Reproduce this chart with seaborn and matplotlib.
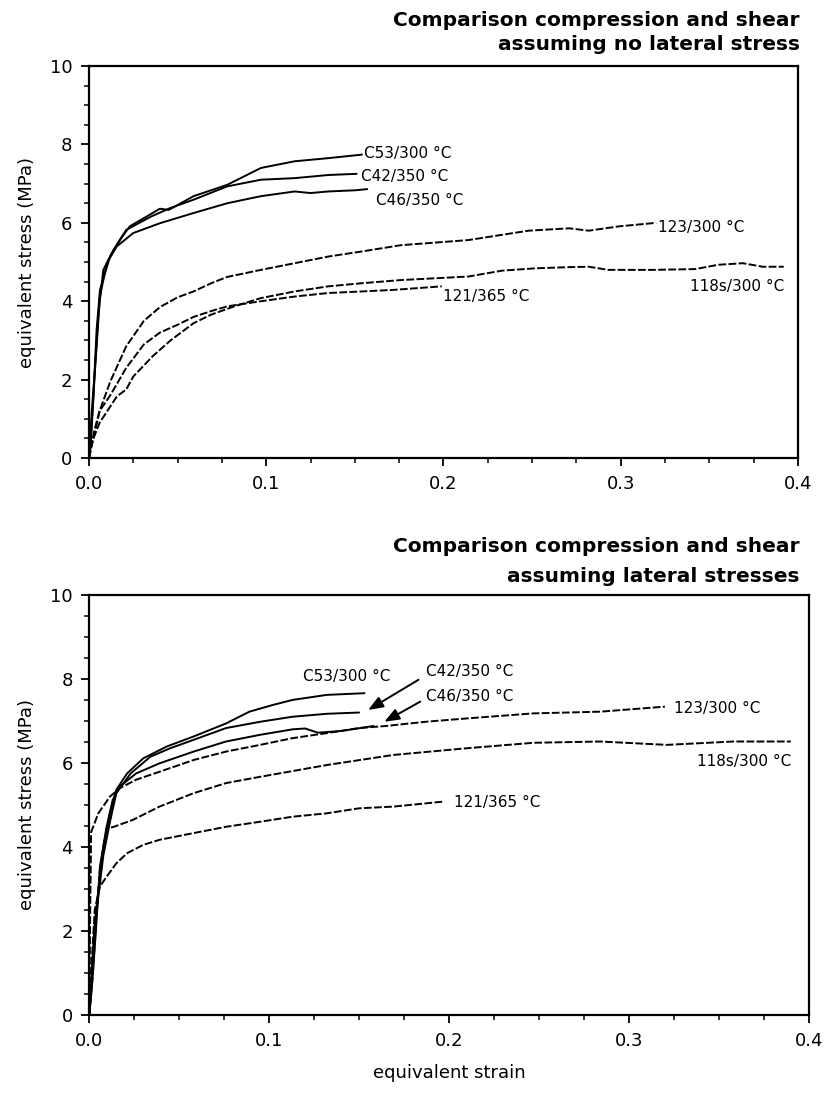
import matplotlib
matplotlib.use("Agg")

import matplotlib.pyplot as plt
import seaborn as sns


# ==============================
# DATA - top panel (no lateral stress)
# ==============================
top_c53_x = [0, 0.0006, 0.0025, 0.0043, 0.0062, 0.0119, 0.0176, 0.023, 0.031, 0.040, 0.045, 0.059, 0.078, 0.097, 0.116, 0.135, 0.154]
top_c53_y = [0, 0.21, 1.57, 3.27, 4.29, 5.14, 5.57, 5.91, 6.12, 6.36, 6.33, 6.68, 6.97, 7.40, 7.57, 7.65, 7.74]

top_c42_x = [0, 0.0012, 0.0025, 0.0053, 0.0081, 0.0138, 0.021, 0.035, 0.046, 0.059, 0.078, 0.097, 0.116, 0.135, 0.151]
top_c42_y = [0, 0.5, 1.57, 3.70, 4.80, 5.31, 5.82, 6.16, 6.38, 6.59, 6.93, 7.10, 7.14, 7.22, 7.25]

top_c46_x = [0, 0.0015, 0.0043, 0.0062, 0.0100, 0.0157, 0.025, 0.040, 0.059, 0.078, 0.097, 0.116, 0.125, 0.135, 0.150, 0.157]
top_c46_y = [0, 1.15, 2.85, 4.12, 4.97, 5.40, 5.74, 5.99, 6.25, 6.50, 6.68, 6.80, 6.76, 6.80, 6.83, 6.86]

top_123_x = [0, 0.003, 0.006, 0.012, 0.021, 0.031, 0.040, 0.050, 0.059, 0.069, 0.078, 0.097, 0.116, 0.135, 0.154, 0.176, 0.214, 0.248, 0.271, 0.282, 0.299, 0.320]
top_123_y = [0, 0.6, 1.2, 1.95, 2.85, 3.5, 3.85, 4.1, 4.25, 4.46, 4.62, 4.80, 4.97, 5.14, 5.27, 5.43, 5.56, 5.80, 5.86, 5.80, 5.91, 6.00]

top_121_x = [0, 0.003, 0.006, 0.012, 0.021, 0.031, 0.040, 0.050, 0.059, 0.069, 0.078, 0.097, 0.116, 0.135, 0.154, 0.172, 0.199]
top_121_y = [0, 0.7, 1.2, 1.6, 2.3, 2.9, 3.2, 3.4, 3.6, 3.75, 3.87, 4.00, 4.12, 4.21, 4.25, 4.29, 4.38]

top_118s_x = [0, 0.0015, 0.006, 0.0157, 0.021, 0.025, 0.036, 0.046, 0.059, 0.069, 0.082, 0.097, 0.116, 0.135, 0.154, 0.176, 0.214, 0.233, 0.252, 0.271, 0.282, 0.293, 0.318, 0.342, 0.355, 0.369, 0.380, 0.392]
top_118s_y = [0, 0.38, 0.9, 1.57, 1.75, 2.08, 2.6, 3.0, 3.44, 3.66, 3.87, 4.08, 4.25, 4.38, 4.46, 4.54, 4.63, 4.78, 4.84, 4.87, 4.88, 4.80, 4.80, 4.82, 4.93, 4.97, 4.88, 4.88]

# ==============================
# DATA - bottom panel (lateral stresses)
# ==============================
bot_c53_x = [0, 0.0013, 0.003, 0.005, 0.0078, 0.0115, 0.015, 0.021, 0.030, 0.043, 0.058, 0.076, 0.089, 0.102, 0.113, 0.132, 0.153]
bot_c53_y = [0, 0.99, 2.18, 2.98, 4.01, 4.80, 5.36, 5.75, 6.11, 6.39, 6.63, 6.94, 7.22, 7.38, 7.50, 7.62, 7.66]

bot_c42_x = [0, 0.0013, 0.003, 0.005, 0.0078, 0.0115, 0.015, 0.023, 0.034, 0.045, 0.058, 0.076, 0.095, 0.113, 0.132, 0.150]
bot_c42_y = [0, 0.8, 2.0, 2.8, 3.8, 4.6, 5.28, 5.75, 6.15, 6.35, 6.55, 6.83, 6.98, 7.10, 7.17, 7.20]

bot_c46_x = [0, 0.0015, 0.0035, 0.0059, 0.0096, 0.013, 0.017, 0.026, 0.039, 0.058, 0.076, 0.095, 0.113, 0.120, 0.127, 0.140, 0.158]
bot_c46_y = [0, 0.7, 1.9, 3.53, 4.48, 5.12, 5.44, 5.75, 5.99, 6.27, 6.51, 6.67, 6.80, 6.82, 6.72, 6.76, 6.88]

bot_123_x = [0, 0.0005, 0.001, 0.005, 0.0115, 0.017, 0.026, 0.039, 0.058, 0.076, 0.095, 0.113, 0.132, 0.150, 0.165, 0.187, 0.210, 0.247, 0.284, 0.320]
bot_123_y = [0, 2.5, 4.35, 4.8, 5.20, 5.40, 5.60, 5.79, 6.07, 6.27, 6.43, 6.59, 6.71, 6.83, 6.88, 6.98, 7.06, 7.18, 7.22, 7.34]

bot_118s_x = [0, 0.002, 0.004, 0.006, 0.0097, 0.013, 0.024, 0.039, 0.058, 0.076, 0.095, 0.132, 0.169, 0.210, 0.247, 0.284, 0.321, 0.358, 0.390]
bot_118s_y = [0, 1.0, 2.4, 3.5, 4.45, 4.47, 4.64, 4.96, 5.28, 5.52, 5.67, 5.95, 6.19, 6.35, 6.48, 6.51, 6.43, 6.51, 6.51]

bot_121_x = [0, 0.001, 0.003, 0.0059, 0.0096, 0.015, 0.021, 0.030, 0.039, 0.058, 0.076, 0.095, 0.113, 0.132, 0.150, 0.169, 0.197]
bot_121_y = [0, 1.0, 2.5, 3.06, 3.29, 3.61, 3.85, 4.05, 4.17, 4.33, 4.48, 4.60, 4.72, 4.80, 4.92, 4.96, 5.08]

curve_labels = ["C53/300 °C", "C42/350 °C", "C46/350 °C", "123/300 °C", "118s/300 °C", "121/365 °C"]
titles_top = ["Comparison compression and shear", "assuming no lateral stress"]
titles_bot = ["Comparison compression and shear", "assuming lateral stresses"]
x_ticks = [0.0, 0.1, 0.2, 0.3, 0.4]
y_ticks = [0, 2, 4, 6, 8, 10]


# ==============================
# STYLE
# ==============================
sns.set_style("ticks")
plt.rcParams["font.family"] = ["DejaVu Sans"]
plt.rcParams["text.color"] = "black"
plt.rcParams["axes.labelcolor"] = "black"
plt.rcParams["xtick.color"] = "black"
plt.rcParams["ytick.color"] = "black"
plt.rcParams["axes.edgecolor"] = "black"

SOLID = "-"
DASHED = (0, (4, 1.2))


def draw_curve(ax, x, y, ls):
    sns.lineplot(x=x, y=y, ax=ax, color="black", lw=1.4, sort=False,
                 estimator=None, linestyle=ls)


def setup_axes(ax):
    ax.set_xlim(0, 0.4)
    ax.set_ylim(0, 10)
    ax.set_xticks(x_ticks)
    ax.set_xticklabels([f"{t:.1f}" for t in x_ticks])
    ax.set_yticks(y_ticks)
    ax.set_xticks([i * 0.025 for i in range(17)], minor=True)
    ax.set_yticks([i * 0.5 for i in range(21)], minor=True)
    ax.tick_params(which="major", direction="out", length=6, width=1.3,
                   labelsize=13, color="black", labelcolor="black", pad=6)
    ax.tick_params(which="minor", direction="out", length=3.5, width=1.1,
                   color="black")
    ax.tick_params(top=False, right=False)
    for sp in ax.spines.values():
        sp.set_visible(True)
        sp.set_linewidth(1.6)
        sp.set_color("black")
    ax.set_ylabel("equivalent stress (MPa)", fontsize=13, labelpad=10,
                  color="black")


fig = plt.figure(figsize=(8.27, 10.95), dpi=100)

# ==============================
# TOP PANEL
# ==============================
ax1 = fig.add_axes([0.1076, 0.5817, 0.8573, 0.358])
draw_curve(ax1, top_c53_x, top_c53_y, SOLID)
draw_curve(ax1, top_c42_x, top_c42_y, SOLID)
draw_curve(ax1, top_c46_x, top_c46_y, SOLID)
draw_curve(ax1, top_123_x, top_123_y, DASHED)
draw_curve(ax1, top_121_x, top_121_y, DASHED)
draw_curve(ax1, top_118s_x, top_118s_y, DASHED)
setup_axes(ax1)
ax1.set_xlabel("")

lab_kw = dict(fontsize=11, va="center", color="black")
ax1.text(0.155, 7.78, curve_labels[0], ha="left", **lab_kw)
ax1.text(0.1535, 7.19, curve_labels[1], ha="left", **lab_kw)
ax1.text(0.162, 6.57, curve_labels[2], ha="left", **lab_kw)
ax1.text(0.321, 5.88, curve_labels[3], ha="left", **lab_kw)
ax1.text(0.392, 4.37, curve_labels[4], ha="right", **lab_kw)
ax1.text(0.200, 4.11, curve_labels[5], ha="left", **lab_kw)

fig.text(0.967, 1 - 21 / 1095, titles_top[0], ha="right", va="center",
         fontsize=14.5, fontweight="bold", color="black")
fig.text(0.967, 1 - 44 / 1095, titles_top[1], ha="right", va="center",
         fontsize=14.5, fontweight="bold", color="black")

# ==============================
# BOTTOM PANEL
# ==============================
ax2 = fig.add_axes([0.108, 0.0731, 0.870, 0.3836])
draw_curve(ax2, bot_c53_x, bot_c53_y, SOLID)
draw_curve(ax2, bot_c42_x, bot_c42_y, SOLID)
draw_curve(ax2, bot_c46_x, bot_c46_y, SOLID)
draw_curve(ax2, bot_123_x, bot_123_y, DASHED)
draw_curve(ax2, bot_118s_x, bot_118s_y, DASHED)
draw_curve(ax2, bot_121_x, bot_121_y, DASHED)
setup_axes(ax2)
ax2.set_xlabel("equivalent strain", fontsize=13, labelpad=10, color="black")

ax2.text(0.119, 8.06, curve_labels[0], ha="left", **lab_kw)
ax2.text(0.187, 8.17, curve_labels[1], ha="left", **lab_kw)
ax2.text(0.187, 7.58, curve_labels[2], ha="left", **lab_kw)
ax2.text(0.325, 7.30, curve_labels[3], ha="left", **lab_kw)
ax2.text(0.390, 6.03, curve_labels[4], ha="right", **lab_kw)
ax2.text(0.203, 5.05, curve_labels[5], ha="left", **lab_kw)

arrow = dict(arrowstyle="-|>,head_length=0.9,head_width=0.35", color="black",
             lw=1.4, shrinkA=0, shrinkB=0)
ax2.annotate("", xy=(0.155, 7.26), xytext=(0.183, 7.98), arrowprops=arrow)
ax2.annotate("", xy=(0.164, 6.98), xytext=(0.184, 7.46), arrowprops=arrow)

fig.text(0.967, 1 - 547 / 1095, titles_bot[0], ha="right", va="center",
         fontsize=14.5, fontweight="bold", color="black")
fig.text(0.967, 1 - 576 / 1095, titles_bot[1], ha="right", va="center",
         fontsize=14.5, fontweight="bold", color="black")

fig.savefig("out.png", dpi=100, facecolor="white")
plt.close(fig)
